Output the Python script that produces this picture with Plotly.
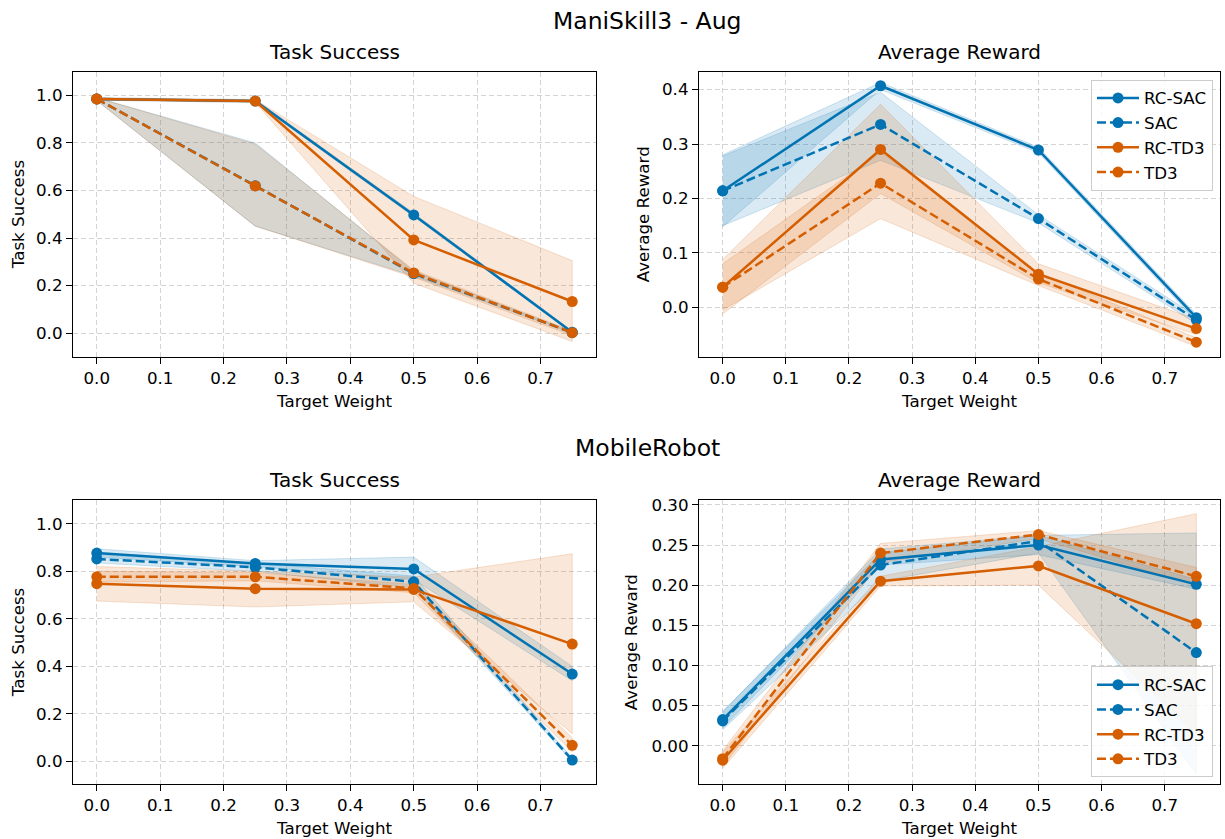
import plotly.graph_objects as go

W, H = 1225, 839

target_weight = [0.0, 0.25, 0.5, 0.75]
methods = ["RC-SAC", "SAC", "RC-TD3", "TD3"]

# ManiSkill3 - Aug : Task Success
ms_succ_mean = {
    "RC-SAC": [0.985, 0.976, 0.497, 0.004],
    "SAC":    [0.985, 0.620, 0.250, 0.002],
    "RC-TD3": [0.985, 0.976, 0.392, 0.133],
    "TD3":    [0.985, 0.619, 0.253, 0.002],
}
ms_succ_lo = {
    "RC-SAC": [0.980, 0.970, 0.490, 0.000],
    "SAC":    [0.978, 0.450, 0.240, 0.000],
    "RC-TD3": [0.980, 0.970, 0.210, -0.035],
    "TD3":    [0.978, 0.450, 0.235, -0.010],
}
ms_succ_hi = {
    "RC-SAC": [0.990, 0.982, 0.505, 0.008],
    "SAC":    [0.990, 0.800, 0.260, 0.005],
    "RC-TD3": [0.990, 0.982, 0.575, 0.305],
    "TD3":    [0.990, 0.795, 0.265, 0.010],
}

# ManiSkill3 - Aug : Average Reward
ms_rew_mean = {
    "RC-SAC": [0.214, 0.407, 0.289, -0.019],
    "SAC":    [0.214, 0.336, 0.163, -0.023],
    "RC-TD3": [0.037, 0.290, 0.061, -0.039],
    "TD3":    [0.037, 0.228, 0.052, -0.064],
}
ms_rew_lo = {
    "RC-SAC": [0.148, 0.400, 0.284, -0.025],
    "SAC":    [0.150, 0.270, 0.155, -0.030],
    "RC-TD3": [-0.012, 0.209, 0.045, -0.050],
    "TD3":    [-0.005, 0.163, 0.040, -0.072],
}
ms_rew_hi = {
    "RC-SAC": [0.280, 0.413, 0.294, -0.013],
    "SAC":    [0.278, 0.395, 0.170, -0.016],
    "RC-TD3": [0.088, 0.373, 0.080, -0.022],
    "TD3":    [0.080, 0.285, 0.064, -0.056],
}

# MobileRobot : Task Success
mr_succ_mean = {
    "RC-SAC": [0.877, 0.833, 0.810, 0.368],
    "SAC":    [0.852, 0.817, 0.756, 0.006],
    "RC-TD3": [0.748, 0.727, 0.724, 0.494],
    "TD3":    [0.777, 0.777, 0.728, 0.068],
}
mr_succ_lo = {
    "RC-SAC": [0.860, 0.820, 0.765, 0.340],
    "SAC":    [0.835, 0.800, 0.730, 0.000],
    "RC-TD3": [0.675, 0.650, 0.672, 0.117],
    "TD3":    [0.755, 0.760, 0.710, 0.040],
}
mr_succ_hi = {
    "RC-SAC": [0.895, 0.845, 0.860, 0.400],
    "SAC":    [0.870, 0.835, 0.780, 0.015],
    "RC-TD3": [0.820, 0.800, 0.776, 0.874],
    "TD3":    [0.800, 0.795, 0.745, 0.100],
}

# MobileRobot : Average Reward
mr_rew_mean = {
    "RC-SAC": [0.0326, 0.232, 0.250, 0.201],
    "SAC":    [0.031, 0.225, 0.255, 0.116],
    "RC-TD3": [-0.018, 0.205, 0.224, 0.152],
    "TD3":    [-0.016, 0.240, 0.263, 0.211],
}
mr_rew_lo = {
    "RC-SAC": [0.022, 0.225, 0.238, 0.195],
    "SAC":    [0.020, 0.205, 0.240, -0.035],
    "RC-TD3": [-0.028, 0.199, 0.200, 0.015],
    "TD3":    [-0.026, 0.228, 0.258, 0.200],
}
mr_rew_hi = {
    "RC-SAC": [0.043, 0.240, 0.262, 0.207],
    "SAC":    [0.042, 0.245, 0.262, 0.265],
    "RC-TD3": [-0.008, 0.211, 0.248, 0.289],
    "TD3":    [-0.006, 0.252, 0.268, 0.222],
}

x_ticks = [0.0, 0.1, 0.2, 0.3, 0.4, 0.5, 0.6, 0.7]
succ_ticks = [0.0, 0.2, 0.4, 0.6, 0.8, 1.0]
ms_rew_ticks = [0.0, 0.1, 0.2, 0.3, 0.4]
mr_rew_ticks = [0.00, 0.05, 0.10, 0.15, 0.20, 0.25, 0.30]

BLUE = "#0173B2"
ORANGE = "#D55E00"
colors = {"RC-SAC": BLUE, "SAC": BLUE, "RC-TD3": ORANGE, "TD3": ORANGE}
fills = {"RC-SAC": "rgba(1,115,178,0.15)", "SAC": "rgba(1,115,178,0.15)",
         "RC-TD3": "rgba(213,94,0,0.15)", "TD3": "rgba(213,94,0,0.15)"}
edges = {"RC-SAC": "rgba(1,115,178,0.18)", "SAC": "rgba(1,115,178,0.18)",
         "RC-TD3": "rgba(213,94,0,0.18)", "TD3": "rgba(213,94,0,0.18)"}
dashes = {"RC-SAC": "solid", "SAC": "9px,4px", "RC-TD3": "solid", "TD3": "9px,4px"}

def px_x(p):
    return p / W

def px_y(p):
    return 1 - p / H

# axes boxes in pixels (left, right, top, bottom)
boxes = {
    1: (73, 596, 67, 354),
    2: (699, 1220, 67, 354),
    3: (73, 596, 498, 784),
    4: (699, 1220, 498, 784),
}

panels = [
    (1, ms_succ_mean, ms_succ_lo, ms_succ_hi, None),
    (2, ms_rew_mean, ms_rew_lo, ms_rew_hi, "legend"),
    (3, mr_succ_mean, mr_succ_lo, mr_succ_hi, None),
    (4, mr_rew_mean, mr_rew_lo, mr_rew_hi, "legend2"),
]

fig = go.Figure()

for idx, mean, lo, hi, leg in panels:
    xa = "x" if idx == 1 else f"x{idx}"
    ya = "y" if idx == 1 else f"y{idx}"
    for m in methods:
        fig.add_trace(go.Scatter(
            x=target_weight + target_weight[::-1],
            y=hi[m] + lo[m][::-1],
            fill="toself", fillcolor=fills[m],
            line=dict(color=edges[m], width=1),
            mode="lines", hoverinfo="skip", showlegend=False,
            xaxis=xa, yaxis=ya))

for idx, mean, lo, hi, leg in panels:
    xa = "x" if idx == 1 else f"x{idx}"
    ya = "y" if idx == 1 else f"y{idx}"
    for m in methods:
        kw = {}
        if leg is not None:
            kw["legend"] = leg
        fig.add_trace(go.Scatter(
            x=target_weight, y=mean[m], name=m,
            mode="lines+markers",
            line=dict(color=colors[m], width=2.5, dash=dashes[m]),
            marker=dict(color=colors[m], size=11),
            showlegend=leg is not None,
            xaxis=xa, yaxis=ya, **kw))

axis_common = dict(
    showline=True, linecolor="black", linewidth=1.2, mirror=True,
    ticks="outside", ticklen=6, tickwidth=1.2, tickcolor="black",
    showgrid=True, gridcolor="rgba(176,176,176,0.55)", gridwidth=1,
    griddash="5px,3px", zeroline=False,
    tickfont=dict(family="DejaVu Sans", size=16.7, color="black"),
)

yranges = {1: [-0.1, 1.10], 2: [-0.091, 0.433], 3: [-0.096, 1.10], 4: [-0.048, 0.306]}
yticks = {1: succ_ticks, 2: ms_rew_ticks, 3: succ_ticks, 4: mr_rew_ticks}
yfmt = {1: ".1f", 2: ".1f", 3: ".1f", 4: ".2f"}

layout = dict(
    width=W, height=H, margin=dict(l=0, r=0, t=0, b=0),
    paper_bgcolor="white", plot_bgcolor="white",
    font=dict(family="DejaVu Sans", color="black"),
    showlegend=True,
)
for idx in range(1, 5):
    l, r, t, b = boxes[idx]
    xk = "xaxis" if idx == 1 else f"xaxis{idx}"
    yk = "yaxis" if idx == 1 else f"yaxis{idx}"
    ya = "y" if idx == 1 else f"y{idx}"
    xa = "x" if idx == 1 else f"x{idx}"
    layout[xk] = dict(axis_common, domain=[px_x(l), px_x(r)], range=[-0.0375, 0.7875],
                      tickvals=x_ticks, tickformat=".1f", anchor=ya)
    layout[yk] = dict(axis_common, domain=[px_y(b), px_y(t)], range=yranges[idx],
                      tickvals=yticks[idx], tickformat=yfmt[idx], anchor=xa)

legend_common = dict(
    bgcolor="rgba(255,255,255,0.8)", bordercolor="#cccccc", borderwidth=1,
    font=dict(family="DejaVu Sans", size=16.7, color="black"),
    xanchor="right", itemwidth=42, tracegroupgap=0,
)
layout["legend"] = dict(legend_common, x=px_x(1213), y=px_y(75), yanchor="top")
layout["legend2"] = dict(legend_common, x=px_x(1213), y=px_y(777), yanchor="bottom")

fig.update_layout(**layout)

ann = []
def text(s, x, y, size, angle=0):
    ann.append(dict(text=s, x=px_x(x), y=px_y(y), xref="paper", yref="paper",
                    showarrow=False, textangle=angle, xanchor="center", yanchor="middle",
                    font=dict(family="DejaVu Sans", size=size, color="black")))

text("ManiSkill3 - Aug", 647, 16, 23.5)
text("MobileRobot", 647, 446, 23.5)
ylab_x = {1: 18, 2: 643, 3: 18, 4: 631}
for idx, ylab in [(1, "Task Success"), (2, "Average Reward"),
                  (3, "Task Success"), (4, "Average Reward")]:
    l, r, t, b = boxes[idx]
    cx = (l + r) / 2
    text(ylab, cx, t - 20, 20)
    text("Target Weight", cx, b + 44, 16.7)
    text(ylab, ylab_x[idx], (t + b) / 2, 16.7, angle=-90)

fig.update_layout(annotations=ann)
fig.write_html("out.html")
